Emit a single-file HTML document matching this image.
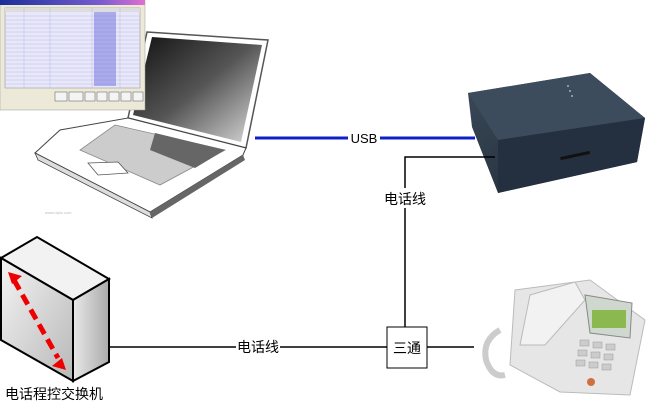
<!DOCTYPE html>
<html><head><meta charset="utf-8"><style>
html,body{margin:0;padding:0;background:#fff;width:653px;height:404px;overflow:hidden}
svg{display:block}
text{font-family:"Liberation Sans","Noto Sans CJK SC",sans-serif}
</style></head><body>
<svg width="653" height="404" viewBox="0 0 653 404" xmlns="http://www.w3.org/2000/svg">
<defs>
<linearGradient id="scr" x1="0" y1="0" x2="1" y2="1"><stop offset="0" stop-color="#111"/><stop offset="0.5" stop-color="#555"/><stop offset="1" stop-color="#ddd"/></linearGradient>
<linearGradient id="tb" x1="0" x2="1"><stop offset="0" stop-color="#1a2f9a"/><stop offset="0.7" stop-color="#7a5cd0"/><stop offset="1" stop-color="#e070d0"/></linearGradient>
<linearGradient id="front" x1="0" y1="0" x2="1" y2="1"><stop offset="0" stop-color="#f4f4f4"/><stop offset="1" stop-color="#b8b8b8"/></linearGradient>
<linearGradient id="side" x1="0" x2="1"><stop offset="0" stop-color="#e8e8e8"/><stop offset="1" stop-color="#aaa"/></linearGradient>
<linearGradient id="box" x1="0" y1="0" x2="1" y2="1"><stop offset="0" stop-color="#3b4a5a"/><stop offset="1" stop-color="#1c2630"/></linearGradient>
</defs>
<!-- laptop -->
<polygon points="147,32 268,40 246,148 128,118" fill="#fff" stroke="#555" stroke-width="1.5"/>
<polygon points="152,37 262,45 241,142 133,115" fill="url(#scr)"/>
<polygon points="128,118 246,148 243,155 150,212 35,153 60,130" fill="#fff" stroke="#444" stroke-width="1"/>
<polygon points="35,153 150,212 152,218 38,160" fill="#ddd" stroke="#444" stroke-width="0.8"/>
<polygon points="150,212 243,155 245,160 152,218" fill="#666"/>
<polygon points="115,125 225,150 160,185 80,150" fill="#ccc" stroke="#888" stroke-width="0.8"/>
<polygon points="155,133 225,150 195,168 150,150" fill="#666"/>
<polygon points="88,163 118,162 128,173 98,175" fill="#fff" stroke="#555" stroke-width="0.8"/>
<text x="45" y="214" font-size="4" fill="#bbb">www.nipic.com</text>
<!-- screenshot window -->
<rect x="0" y="0" width="145" height="110" fill="#ece9d8" stroke="#999" stroke-width="0.5"/>
<rect x="0" y="0" width="145" height="5" fill="url(#tb)"/>
<rect x="5" y="8" width="135" height="80" fill="#e8e8fa" stroke="#888" stroke-width="0.5"/>
<rect x="5" y="8" width="135" height="4" fill="#ddd"/>
<g stroke="#b0b0e0" stroke-width="0.4">
<line x1="5" y1="16" x2="140" y2="16"/><line x1="5" y1="20" x2="140" y2="20"/><line x1="5" y1="24" x2="140" y2="24"/><line x1="5" y1="28" x2="140" y2="28"/><line x1="5" y1="32" x2="140" y2="32"/><line x1="5" y1="36" x2="140" y2="36"/><line x1="5" y1="40" x2="140" y2="40"/><line x1="5" y1="44" x2="140" y2="44"/><line x1="5" y1="48" x2="140" y2="48"/><line x1="5" y1="52" x2="140" y2="52"/><line x1="5" y1="56" x2="140" y2="56"/><line x1="5" y1="60" x2="140" y2="60"/><line x1="5" y1="64" x2="140" y2="64"/><line x1="5" y1="68" x2="140" y2="68"/><line x1="5" y1="72" x2="140" y2="72"/><line x1="5" y1="76" x2="140" y2="76"/><line x1="5" y1="80" x2="140" y2="80"/><line x1="5" y1="84" x2="140" y2="84"/>
<line x1="24" y1="8" x2="24" y2="88"/><line x1="50" y1="8" x2="50" y2="88"/><line x1="92" y1="8" x2="92" y2="88"/><line x1="120" y1="8" x2="120" y2="88"/>
</g>
<g fill="#3a3ad0"><rect x="94" y="12" width="22" height="74" opacity="0.35"/></g>
<g fill="#f4f4f4" stroke="#555" stroke-width="0.5">
<rect x="55" y="92" width="12" height="9"/><rect x="69" y="92" width="14" height="9"/><rect x="85" y="92" width="10" height="9"/><rect x="97" y="92" width="10" height="9"/><rect x="109" y="92" width="10" height="9"/><rect x="121" y="92" width="10" height="9"/><rect x="133" y="92" width="10" height="9"/>
</g>
<!-- USB -->
<line x1="255" y1="138" x2="475" y2="138" stroke="#1020c8" stroke-width="3"/>
<rect x="348" y="130" width="32" height="16" fill="#fff"/>
<text x="364" y="143" font-size="13" text-anchor="middle" fill="#000">USB</text>
<!-- device -->
<polygon points="468,93 590,73 645,118 637,162 498,193 472,127" fill="url(#box)"/>
<polygon points="468,93 590,73 645,118 498,140" fill="#3d4c5c"/>
<polygon points="498,140 645,118 637,162 498,193" fill="#243040"/>
<rect x="560" y="154" width="30" height="3" fill="#111" transform="rotate(-12 575 155)"/>
<g fill="#aab"><circle cx="568" cy="86" r="1"/><circle cx="570" cy="91" r="1"/><circle cx="572" cy="96" r="1"/></g>
<!-- phone wires -->
<polyline points="495,157 405,157 405,327" fill="none" stroke="#000" stroke-width="1.5"/>
<rect x="383" y="188" width="45" height="20" fill="#fff"/>
<text x="405" y="204" font-size="14" text-anchor="middle">电话线</text>
<line x1="110" y1="347" x2="387" y2="347" stroke="#000" stroke-width="1.5"/>
<line x1="427" y1="347" x2="474" y2="347" stroke="#000" stroke-width="1.5"/>
<rect x="236" y="338" width="44" height="18" fill="#fff"/>
<text x="258" y="352" font-size="14" text-anchor="middle">电话线</text>
<rect x="387" y="327" width="40" height="41" fill="#fff" stroke="#000" stroke-width="1"/>
<text x="407" y="353" font-size="14" text-anchor="middle">三通</text>
<!-- PBX -->
<polygon points="1,258 37,237 109,279 73,300" fill="#f2f2f2" stroke="#000" stroke-width="2"/>
<polygon points="1,258 73,300 73,381 1,340" fill="url(#front)" stroke="#000" stroke-width="2"/>
<polygon points="73,300 109,279 109,362 73,381" fill="url(#side)" stroke="#000" stroke-width="2"/>
<line x1="14" y1="280" x2="58" y2="358" stroke="#e00" stroke-width="5" stroke-dasharray="11,6"/>
<polygon points="8,272 22,276 12,284" fill="#e00"/>
<polygon points="66,370 52,366 62,358" fill="#e00"/>
<text x="54" y="399" font-size="14" text-anchor="middle">电话程控交换机</text>
<!-- telephone -->
<path d="M500,330 Q482,340 486,360 Q492,378 505,375" fill="none" stroke="#ccc" stroke-width="6"/>
<polygon points="515,290 590,280 645,320 630,395 560,392 510,365" fill="#e6e6e6" stroke="#bbb"/>
<polygon points="530,295 575,282 585,300 545,345 520,345" fill="#f2f2f2" stroke="#bbb"/>
<polygon points="585,295 632,303 630,338 590,333" fill="#cfd8cf" stroke="#888"/>
<rect x="592" y="310" width="34" height="18" fill="#8cb850"/>
<g fill="#ccc" stroke="#999" stroke-width="0.5">
<rect x="580" y="340" width="9" height="6"/><rect x="593" y="342" width="9" height="6"/><rect x="606" y="344" width="9" height="6"/>
<rect x="578" y="350" width="9" height="6"/><rect x="591" y="352" width="9" height="6"/><rect x="604" y="354" width="9" height="6"/>
<rect x="576" y="360" width="9" height="6"/><rect x="589" y="362" width="9" height="6"/><rect x="602" y="364" width="9" height="6"/>
</g>
<circle cx="591" cy="382" r="4" fill="#d07040"/>
</svg>
</body></html>
